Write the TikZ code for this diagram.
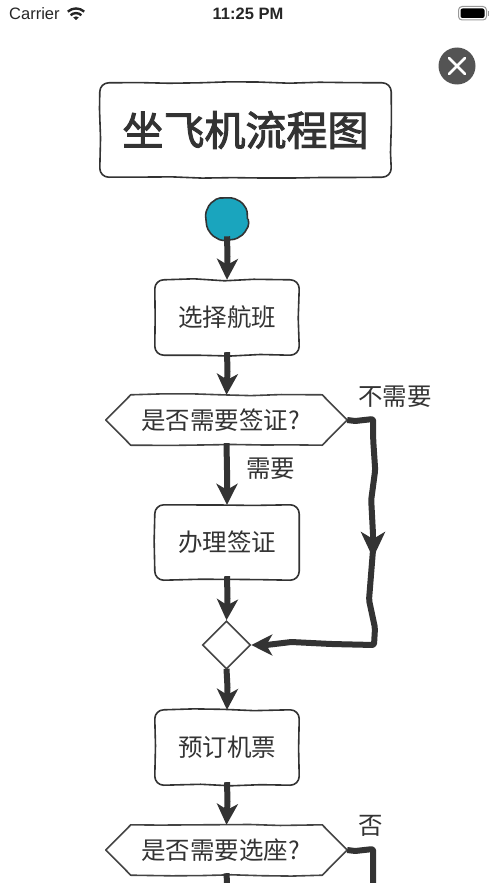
\documentclass[tikz,border=0pt]{standalone}
\usepackage{fontspec}
\setmainfont{Liberation Sans}
\newfontfamily\cjk{Noto Sans CJK SC}
\newfontfamily\cjkmed{Noto Sans CJK SC}[FakeBold=2.4]
\usetikzlibrary{arrows.meta,calc,decorations.pathmorphing,shapes.geometric}
\definecolor{ink}{HTML}{333333}
\definecolor{teal1}{HTML}{1AA5BE}
\definecolor{edgegray}{HTML}{444444}
\tikzset{
  boxnode/.style={minimum width=144pt,minimum height=75pt,inner sep=0pt,text=ink,font=\cjk\fontsize{24.5}{28}\selectfont},
  titlenode/.style={minimum width=291pt,minimum height=94pt,inner sep=0pt,text=ink,font=\cjkmed\fontsize{41}{46}\selectfont},
  hexnode/.style={minimum width=241pt,minimum height=50pt,inner sep=0pt,text=ink,font=\cjk\fontsize{24.5}{28}\selectfont},
  lbl/.style={inner sep=0pt,text=ink,font=\cjk\fontsize{24.5}{28}\selectfont},
  outline/.style={draw=ink,line width=1.6pt,line join=round},
  wob/.style={decoration={random steps,segment length=30pt,amplitude=1pt}},
  conn/.style={draw=ink,line width=6pt,line join=round},
  arrowed/.style={-{Stealth[length=21pt,width=21pt,inset=6pt]}},
  bigarrowed/.style={-{Stealth[length=26pt,width=24pt,inset=7pt]}},
  status/.style={inner sep=0pt,text=black!85,font=\fontsize{16.5}{18}\selectfont},
}
\newcommand{\sketchbox}[1]{%
  \draw[outline,wob]
    ($(#1.north west)+(9,0)$) decorate{-- ($(#1.north east)+(-9,0)$)}
    .. controls ($(#1.north east)+(-4,0)$) and ($(#1.north east)+(0,4)$) .. ($(#1.north east)+(0,9)$)
    decorate{-- ($(#1.south east)+(0,-9)$)}
    .. controls ($(#1.south east)+(0,-4)$) and ($(#1.south east)+(-4,0)$) .. ($(#1.south east)+(-9,0)$)
    decorate{-- ($(#1.south west)+(9,0)$)}
    .. controls ($(#1.south west)+(4,0)$) and ($(#1.south west)+(0,-4)$) .. ($(#1.south west)+(0,-9)$)
    decorate{-- ($(#1.north west)+(0,9)$)}
    .. controls ($(#1.north west)+(0,4)$) and ($(#1.north west)+(4,0)$) .. cycle;}
\newcommand{\sketchhex}[1]{%
  \draw[outline,draw=edgegray,wob]
    (#1.west) -- ($(#1.north west)+(25,0)$)
    decorate{-- ($(#1.north east)+(-25,0)$)} -- (#1.east)
    -- ($(#1.south east)+(-25,0)$)
    decorate{-- ($(#1.south west)+(25,0)$)} -- cycle;}
\begin{document}
\begin{tikzpicture}[x=1pt,y=-1pt]
\useasboundingbox (0,0) rectangle (497,883);
\pgfmathsetseed{7}

% status bar
\node[status,anchor=west] (carrier) at (9,14) {Carrier};
\node[status] (clock) at (248,14) {\textbf{11:25 PM}};
\fill[black!85] (76,20) -- (73.2,17.4) .. controls (75,16) and (77,16) .. (78.8,17.4) -- cycle;
\draw[black!85,line width=2.4pt] (70.6,15.2) .. controls (73.8,12.4) and (78.2,12.4) .. (81.4,15.2);
\draw[black!85,line width=2.4pt] (67.8,11.6) .. controls (72.6,7.4) and (79.4,7.4) .. (84.2,11.6);
\draw[gray!80,line width=1pt,rounded corners=3.5] (458.5,6.5) rectangle (486.5,20);
\fill[black,rounded corners=2] (460.5,8.5) rectangle (484.5,18);
\fill[gray!80] (488,11) rectangle (489,16);

% close button
\fill[black!67] (457,66) circle (18.5);
\draw[white,line width=2.6pt,line cap=round] (449,58) -- (465,74) (465,58) -- (449,74);

% title
\node[titlenode] (title) at (245.5,130) {坐飞机流程图};
\sketchbox{title}

% flow nodes
\node[circle,minimum size=41pt,inner sep=0pt,fill=teal1,draw=ink,line width=1.6pt,decorate,
  decoration={random steps,segment length=9pt,amplitude=.5pt},rounded corners=2pt] (start) at (227,219) {};
\node[boxnode] (pick) at (227,317.5) {选择航班};
\sketchbox{pick}
\node[hexnode] (visaq) at (226.5,420) {\hbox{是否需要签证?\kern12pt}};
\sketchhex{visaq}
\node[boxnode] (visa) at (227,542.5) {办理签证};
\sketchbox{visa}
\node[diamond,draw=edgegray,line width=1.6pt,minimum width=48pt,minimum height=48pt,inner sep=0pt] (merge) at (226.5,645) {};
\node[boxnode] (book) at (227,747.5) {预订机票};
\sketchbox{book}
\node[hexnode] (seatq) at (226.5,850) {\hbox{是否需要选座?\kern12pt}};
\sketchhex{seatq}

% labels
\node[lbl] (lno) at (395,396.5) {不需要};
\node[lbl] (lyes) at (270.5,469) {需要};
\node[lbl] (lseat) at (371,826) {否};

% connector way points
\coordinate (bottomA) at (227,883);
\coordinate (bottomB) at (373,883);
\coordinate (midtip) at (373,558);

% straight connectors
\draw[conn,arrowed] ($(start.south)+(0,-4)$) -- ($(start.south)+(0.5,16)$) -- (pick.north);
\draw[conn,arrowed] ($(pick.south)+(0,-3)$) -- ($(pick.south)+(0.5,16)$) -- (visaq.north);
\draw[conn,arrowed] ($(visaq.south)+(0,-2)$) -- ($(visaq.south)+(0.5,25)$) -- (visa.north);
\draw[conn,arrowed] ($(visa.south)+(0,-4)$) -- ($(visa.south)+(0.5,18)$) -- (merge.north);
\draw[conn,arrowed] ($(merge.south)+(0,-1)$) -- ($(merge.south)+(1,18)$) -- (book.north);
\draw[conn,arrowed] ($(book.south)+(0,-3)$) -- ($(book.south)+(0.5,16)$) -- (seatq.north);
\draw[conn] ($(seatq.south)+(0,-2)$) -- (bottomA);

% no-visa branch
\draw[conn,rounded corners=2pt] ($(midtip)+(0,-8)$) -- ($(midtip)+(-4,42)$) -- ($(midtip)+(2,70)$) -- ($(midtip)+(1,87)$)
  -- ($(merge.east)+(80,-1)$) -- ($(merge.east)+(40,-3)$) -- ($(merge.east)+(15,0)$) -- ($(merge.east)+(8,0)$);
\draw[conn,arrowed] ($(merge.east)+(15,0)$) -- (merge.east);
\draw[conn,rounded corners=2pt] (visaq.east) -- ($(visaq.east)+(8,1)$) -- ($(visaq.east)+(26,-1)$)
  -- ($(visaq.east)+(26,20)$) -- ($(visaq.east)+(28,50)$) -- ($(visaq.east)+(24,80)$) -- ($(midtip)+(0,-24)$);
\draw[conn,bigarrowed] ($(midtip)+(0,-26)$) -- (midtip);

% no-seat branch
\draw[conn,rounded corners=2pt] (seatq.east) -- ($(seatq.east)+(8,1)$) -- ($(seatq.east)+(26,-1)$) -- (bottomB);
\end{tikzpicture}
\end{document}
